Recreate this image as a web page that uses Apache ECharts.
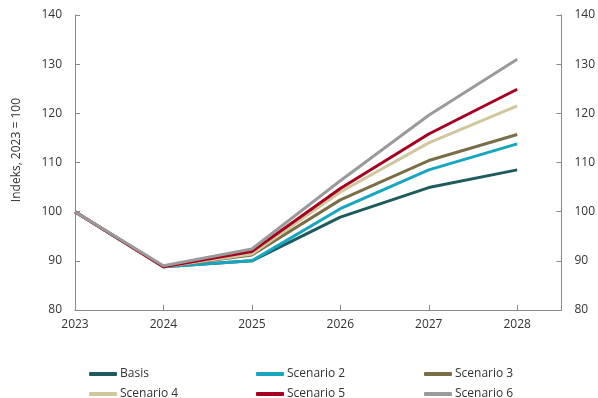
<!DOCTYPE html>
<html>
<head>
<meta charset="utf-8">
<script src="https://cdn.jsdelivr.net/npm/echarts@6/dist/echarts.min.js"></script>
<style>
  html, body { margin: 0; padding: 0; background: #fff; }
  #chart { width: 598px; height: 398px; }
</style>
</head>
<body>
<div id="chart"></div>
<script>
// Years on the horizontal axis
const years = [2023, 2024, 2025, 2026, 2027, 2028];

// Index values (2023 = 100) per scenario
const basis     = [100, 88.8, 90.0,  98.9, 104.9, 108.5];
const scenario2 = [100, 88.8, 90.0, 100.6, 108.5, 113.8];
const scenario3 = [100, 88.8, 91.2, 102.4, 110.4, 115.7];
const scenario4 = [100, 88.8, 91.4, 104.0, 114.0, 121.5];
const scenario5 = [100, 88.8, 91.9, 104.7, 115.8, 124.9];
const scenario6 = [100, 89.0, 92.4, 106.3, 119.6, 131.0];

const seriesNames = ['Basis', 'Scenario 2', 'Scenario 3', 'Scenario 4', 'Scenario 5', 'Scenario 6'];
const seriesValues = [basis, scenario2, scenario3, scenario4, scenario5, scenario6];
const seriesColors = ['#1d5b5f', '#16a6c2', '#7a6e48', '#d2c69c', '#a5001f', '#9a9a9a'];

const yTicks = [80, 90, 100, 110, 120, 130, 140];
const yTitle = 'Indeks, 2023 = 100';

const FONT = '"Open Sans", "Noto Sans", sans-serif';
const TEXT = '#333333';
const AXIS = '#8a8a8a';

const chart = echarts.init(document.getElementById('chart'), null, { renderer: 'canvas' });

function yAxisCfg(pos) {
  return {
    type: 'value',
    position: pos,
    min: yTicks[0],
    max: yTicks[yTicks.length - 1],
    interval: 10,
    axisLine: { show: true, lineStyle: { color: AXIS, width: 1 } },
    axisTick: { show: true, inside: true, length: 5, lineStyle: { color: AXIS } },
    axisLabel: { color: TEXT, fontFamily: FONT, fontSize: 12, margin: 13 },
    splitLine: { show: false }
  };
}

// One legend per column, two entries stacked in each
function legendCol(left, names) {
  return {
    orient: 'vertical',
    left: left,
    top: 366,
    width: 160,
    height: 60,
    itemWidth: 28,
    itemHeight: 4,
    itemGap: 4,
    icon: 'roundRect',
    padding: 0,
    data: names,
    textStyle: { color: TEXT, fontFamily: FONT, fontSize: 12, padding: [0, 0, 0, -2], lineHeight: 16 }
  };
}

const option = {
  animation: false,
  backgroundColor: '#ffffff',
  grid: { left: 75, right: 36, top: 15, bottom: 88, containLabel: false },
  xAxis: {
    type: 'value',
    min: years[0],
    max: years[years.length - 1] + 0.5,
    interval: 1,
    axisLine: { show: true, onZero: false, lineStyle: { color: AXIS, width: 1 } },
    axisTick: { show: true, inside: true, length: 5, lineStyle: { color: AXIS } },
    axisLabel: {
      color: TEXT, fontFamily: FONT, fontSize: 12, margin: 9,
      formatter: v => (Number.isInteger(v) ? String(v) : '')
    },
    splitLine: { show: false }
  },
  yAxis: [yAxisCfg('left'), yAxisCfg('right')],
  legend: [
    legendCol(89, [seriesNames[0], seriesNames[3]]),
    legendCol(256, [seriesNames[1], seriesNames[4]]),
    legendCol(424, [seriesNames[2], seriesNames[5]])
  ],
  graphic: [{
    type: 'text',
    left: 11,
    top: 98,
    rotation: Math.PI / 2,
    style: { text: yTitle, fill: TEXT, font: '12px ' + FONT }
  }],
  series: seriesNames.map((name, i) => ({
    name: name,
    type: 'line',
    yAxisIndex: 0,
    data: years.map((y, j) => [y, seriesValues[i][j]]),
    symbol: 'none',
    color: seriesColors[i],
    lineStyle: { width: 3, color: seriesColors[i] },
    z: 2 + i
  }))
};

chart.setOption(option);
</script>
</body>
</html>
